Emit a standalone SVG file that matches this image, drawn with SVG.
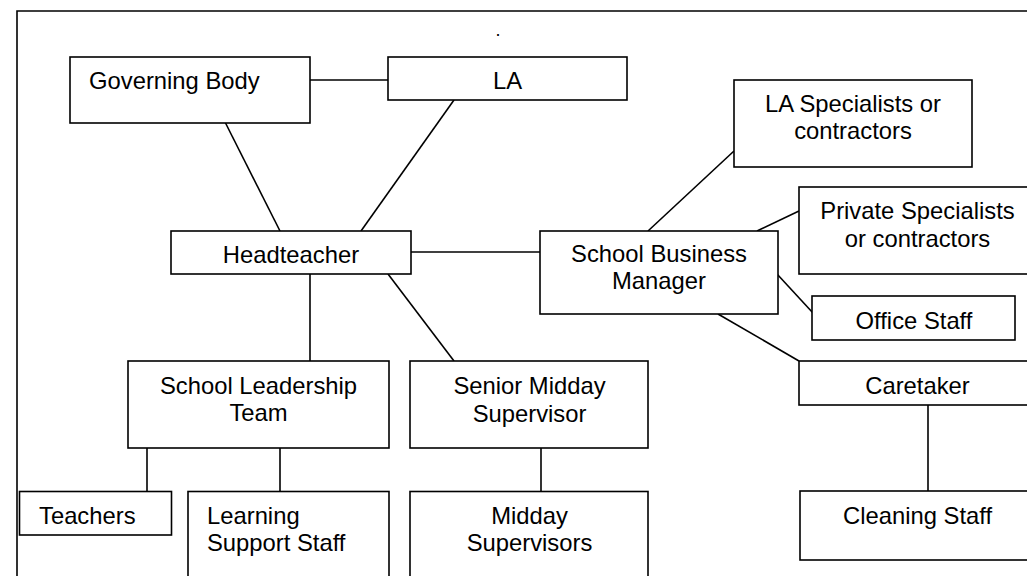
<svg xmlns="http://www.w3.org/2000/svg" width="1027" height="576" viewBox="0 0 1027 576">
<style>
.b{fill:#fff;stroke:#000;stroke-width:1.6}
.c line{stroke:#000;stroke-width:1.6}
text{font-family:"Liberation Sans",Arial,sans-serif;font-size:23.8px;fill:#000}
.m{text-anchor:middle}
</style>
<rect width="1027" height="576" fill="#fff"/>
<path d="M17,582 V11 H1032" fill="none" stroke="#000" stroke-width="1.6"/>
<text x="498" y="36" class="m" style="font-size:18px">.</text>
<g class="c" id="connectors">
<line x1="310" y1="80" x2="388" y2="80"/>
<line x1="225" y1="122" x2="280" y2="231"/>
<line x1="454" y1="100" x2="361" y2="231"/>
<line x1="411" y1="252" x2="540" y2="252"/>
<line x1="648" y1="231" x2="734" y2="151"/>
<line x1="757" y1="231" x2="799" y2="211"/>
<line x1="777" y1="274" x2="813" y2="313"/>
<line x1="718" y1="314" x2="799" y2="361"/>
<line x1="928" y1="405" x2="928" y2="491"/>
<line x1="310" y1="274" x2="310" y2="361"/>
<line x1="388" y1="274" x2="454" y2="361"/>
<line x1="541" y1="448" x2="541" y2="491"/>
<line x1="147" y1="448" x2="147" y2="491"/>
<line x1="280" y1="448" x2="280" y2="491"/>
</g>
<g id="governing-body"><rect class="b" x="70" y="57" width="240" height="66"/><text x="89" y="89">Governing Body</text></g>
<g id="la"><rect class="b" x="388" y="57" width="239" height="43"/><text x="507.5" y="89" class="m">LA</text></g>
<g id="headteacher"><rect class="b" x="171" y="231" width="240" height="43"/><text x="291" y="263" class="m">Headteacher</text></g>
<g id="la-specialists"><rect class="b" x="734" y="80" width="238" height="87"/><text x="853" y="112" class="m">LA Specialists or</text><text x="853" y="139" class="m">contractors</text></g>
<g id="private-specialists"><rect class="b" x="799" y="187" width="240" height="87"/><text x="917.5" y="219" class="m">Private Specialists</text><text x="917.5" y="246.5" class="m">or contractors</text></g>
<g id="school-business-manager"><rect class="b" x="540" y="231" width="238" height="83"/><text x="659" y="262" class="m">School Business</text><text x="659" y="289" class="m">Manager</text></g>
<g id="office-staff"><rect class="b" x="812" y="296" width="203" height="44"/><text x="914" y="329" class="m">Office Staff</text></g>
<g id="caretaker"><rect class="b" x="799" y="361" width="240" height="44"/><text x="917.5" y="394" class="m">Caretaker</text></g>
<g id="cleaning-staff"><rect class="b" x="800" y="491" width="240" height="69"/><text x="917.5" y="524" class="m">Cleaning Staff</text></g>
<g id="school-leadership-team"><rect class="b" x="128" y="361" width="261" height="87"/><text x="258.5" y="394" class="m">School Leadership</text><text x="258.5" y="421" class="m">Team</text></g>
<g id="senior-midday-supervisor"><rect class="b" x="410" y="361" width="238" height="87"/><text x="529.5" y="394" class="m">Senior Midday</text><text x="529.5" y="421.5" class="m">Supervisor</text></g>
<g id="teachers"><rect class="b" x="19.5" y="491.5" width="152" height="43.5"/><text x="39" y="524">Teachers</text></g>
<g id="learning-support-staff"><rect class="b" x="188" y="491.5" width="201" height="92"/><text x="207" y="524">Learning</text><text x="207" y="551">Support Staff</text></g>
<g id="midday-supervisors"><rect class="b" x="410" y="491.5" width="238" height="92"/><text x="529.5" y="524" class="m">Midday</text><text x="529.5" y="551" class="m">Supervisors</text></g>
</svg>
